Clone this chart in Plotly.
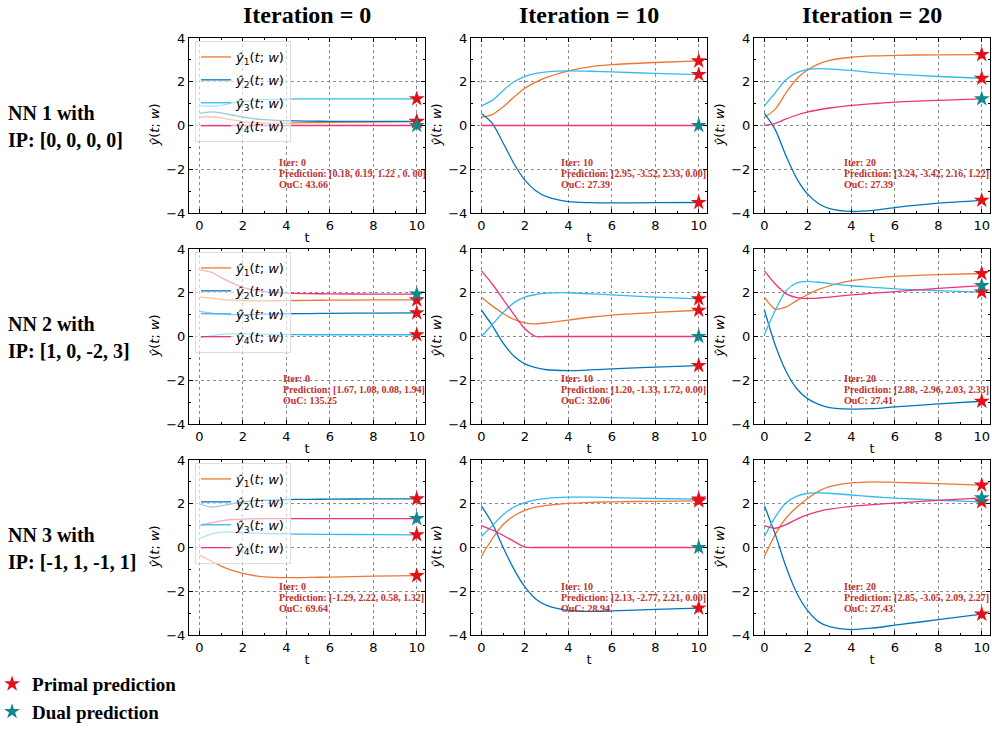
import plotly.graph_objects as go

# time grid of the sampled trajectories
T = [0, 0.5, 1, 1.5, 2, 2.5, 3, 4, 5, 6, 8, 10]

# trajectories [y1, y2, y3, y4] for each network / iteration
nn1_it0 = [
    [0.38, 0.40, 0.35, 0.26, 0.18, 0.13, 0.11, 0.11, 0.13, 0.14, 0.16, 0.18],
    [0.55, 0.62, 0.58, 0.48, 0.38, 0.31, 0.27, 0.22, 0.20, 0.19, 0.19, 0.19],
    [0.92, 0.88, 0.92, 1.02, 1.10, 1.15, 1.18, 1.21, 1.22, 1.22, 1.22, 1.22],
    [0.00, 0.00, 0.00, 0.00, 0.00, 0.00, 0.00, 0.00, 0.00, 0.00, 0.00, 0.00],
]
nn1_it10 = [
    [0.38, 0.50, 0.85, 1.30, 1.70, 1.98, 2.20, 2.50, 2.68, 2.78, 2.88, 2.95],
    [0.55, 0.10, -0.80, -1.75, -2.50, -2.98, -3.25, -3.48, -3.53, -3.54, -3.53, -3.52],
    [0.90, 1.15, 1.60, 2.00, 2.25, 2.38, 2.45, 2.50, 2.48, 2.45, 2.38, 2.33],
    [0.00, 0.00, 0.00, 0.00, 0.00, 0.00, 0.00, 0.00, 0.00, 0.00, 0.00, 0.00],
]
nn1_it20 = [
    [0.38, 0.75, 1.50, 2.15, 2.55, 2.82, 2.98, 3.12, 3.18, 3.21, 3.23, 3.24],
    [0.55, -0.20, -1.40, -2.45, -3.15, -3.58, -3.80, -3.93, -3.88, -3.75, -3.55, -3.42],
    [0.90, 1.50, 2.10, 2.42, 2.56, 2.60, 2.58, 2.52, 2.42, 2.35, 2.24, 2.16],
    [0.00, 0.10, 0.30, 0.48, 0.62, 0.72, 0.80, 0.92, 1.00, 1.07, 1.15, 1.22],
]
nn2_it0 = [
    [1.80, 1.76, 1.70, 1.66, 1.64, 1.63, 1.63, 1.64, 1.65, 1.66, 1.67, 1.67],
    [1.15, 1.08, 1.02, 1.00, 1.00, 1.01, 1.02, 1.04, 1.05, 1.06, 1.07, 1.08],
    [-0.05, 0.03, 0.10, 0.12, 0.12, 0.11, 0.10, 0.09, 0.08, 0.08, 0.08, 0.08],
    [3.05, 2.95, 2.70, 2.45, 2.25, 2.12, 2.05, 1.98, 1.96, 1.95, 1.94, 1.94],
]
nn2_it10 = [
    [1.80, 1.40, 1.05, 0.78, 0.62, 0.58, 0.62, 0.75, 0.88, 0.98, 1.10, 1.20],
    [1.20, 0.50, -0.30, -0.90, -1.25, -1.42, -1.52, -1.56, -1.53, -1.48, -1.40, -1.33],
    [0.00, 0.55, 1.10, 1.55, 1.80, 1.92, 1.98, 2.00, 1.95, 1.90, 1.80, 1.72],
    [3.00, 2.40, 1.70, 1.00, 0.35, 0.00, 0.00, 0.00, 0.00, 0.00, 0.00, 0.00],
]
nn2_it20 = [
    [1.80, 1.25, 1.35, 1.65, 1.92, 2.15, 2.32, 2.55, 2.67, 2.75, 2.83, 2.88],
    [1.20, -0.40, -1.60, -2.40, -2.85, -3.10, -3.25, -3.32, -3.30, -3.22, -3.08, -2.96],
    [0.10, 1.20, 2.10, 2.45, 2.52, 2.48, 2.42, 2.32, 2.25, 2.18, 2.10, 2.03],
    [3.00, 2.40, 1.95, 1.78, 1.74, 1.76, 1.80, 1.90, 1.98, 2.05, 2.20, 2.33],
]
nn3_it0 = [
    [-0.35, -0.60, -0.85, -1.05, -1.18, -1.28, -1.34, -1.38, -1.37, -1.35, -1.31, -1.29],
    [2.00, 1.85, 1.90, 2.00, 2.08, 2.13, 2.16, 2.19, 2.20, 2.21, 2.22, 2.22],
    [0.40, 0.60, 0.70, 0.70, 0.68, 0.66, 0.64, 0.62, 0.61, 0.60, 0.59, 0.58],
    [1.00, 1.12, 1.22, 1.28, 1.30, 1.31, 1.32, 1.32, 1.32, 1.32, 1.32, 1.32],
]
nn3_it10 = [
    [-0.40, 0.40, 1.05, 1.45, 1.70, 1.85, 1.93, 2.02, 2.06, 2.09, 2.11, 2.13],
    [1.90, 1.10, 0.00, -1.00, -1.80, -2.35, -2.65, -2.88, -2.92, -2.90, -2.83, -2.77],
    [0.50, 1.00, 1.50, 1.85, 2.05, 2.18, 2.25, 2.30, 2.30, 2.28, 2.24, 2.21],
    [1.00, 0.80, 0.55, 0.28, 0.02, 0.00, 0.00, 0.00, 0.00, 0.00, 0.00, 0.00],
]
nn3_it20 = [
    [-0.40, 0.60, 1.35, 1.85, 2.25, 2.58, 2.78, 2.95, 3.00, 2.98, 2.92, 2.85],
    [1.90, 0.60, -0.90, -2.10, -2.90, -3.40, -3.62, -3.75, -3.68, -3.55, -3.30, -3.05],
    [0.50, 1.40, 2.05, 2.35, 2.48, 2.50, 2.48, 2.40, 2.32, 2.26, 2.16, 2.09],
    [1.00, 0.88, 1.05, 1.30, 1.50, 1.65, 1.75, 1.88, 1.96, 2.03, 2.15, 2.27],
]

# final predictions [y1, y2, y3, y4] at t = 10 and objective values
pred_nn1 = [[0.18, 0.19, 1.22, 0.00], [2.95, -3.52, 2.33, 0.00], [3.24, -3.42, 2.16, 1.22]]
pred_nn2 = [[1.67, 1.08, 0.08, 1.94], [1.20, -1.33, 1.72, 0.00], [2.88, -2.96, 2.03, 2.33]]
pred_nn3 = [[-1.29, 2.22, 0.58, 1.32], [2.13, -2.77, 2.21, 0.00], [2.85, -3.05, 2.09, 2.27]]
ouc_nn1 = [43.66, 27.39, 27.39]
ouc_nn2 = [135.25, 32.06, 27.41]
ouc_nn3 = [69.64, 28.94, 27.43]

iterations = [0, 10, 20]
row_names = ["NN 1 with", "NN 2 with", "NN 3 with"]
ip_labels = ["IP: [0, 0, 0, 0]", "IP: [1, 0, -2, 3]", "IP: [-1, 1, -1, 1]"]
series_names = [
    "<i>ŷ</i><sub>1</sub>(<i>t</i>; <i>w</i>)",
    "<i>ŷ</i><sub>2</sub>(<i>t</i>; <i>w</i>)",
    "<i>ŷ</i><sub>3</sub>(<i>t</i>; <i>w</i>)",
    "<i>ŷ</i><sub>4</sub>(<i>t</i>; <i>w</i>)",
]
Y_TITLE = "<i>ŷ</i>(<i>t</i>; <i>w</i>)"
T_END = 10

panels = [[nn1_it0, nn1_it10, nn1_it20],
          [nn2_it0, nn2_it10, nn2_it20],
          [nn3_it0, nn3_it10, nn3_it20]]
preds = [pred_nn1, pred_nn2, pred_nn3]
oucs = [ouc_nn1, ouc_nn2, ouc_nn3]

COLORS = ["#EE7733", "#0077BB", "#33BBEE", "#EE3377"]
PRIMAL = "#E3101A"
DUAL = "#11888C"
SERIF = "Liberation Serif, Times New Roman, serif"
SANS = "DejaVu Sans, sans-serif"
TXT_RED = "#C0302B"

W, H = 992, 731
col_px = [(189, 425), (471, 707), (754, 990)]
row_px = [(38, 213), (249, 424), (460, 635)]
PX_PER_UNIT = 175 / 8.0

fig = go.Figure()
layout = dict(
    width=W, height=H, margin=dict(l=0, r=0, t=0, b=0, autoexpand=False),
    plot_bgcolor="white", paper_bgcolor="white",
    font=dict(family=SANS, size=12, color="black"),
)

annotations = []
legend_keys = ["legend", "legend2", "legend3"]
text_top = [-1.67, -1.90, -1.76]
for r in range(3):
    for c in range(3):
        k = r * 3 + c + 1
        xa, ya = f"x{k}" if k > 1 else "x", f"y{k}" if k > 1 else "y"
        data = panels[r][c]
        for s in range(4):
            fig.add_trace(go.Scatter(
                x=T, y=data[s], mode="lines", xaxis=xa, yaxis=ya,
                line=dict(color=COLORS[s], width=1.3, shape="spline", smoothing=0.8),
                name=series_names[s], showlegend=(c == 0),
                legend=legend_keys[r], legendgroup=f"g{r}{s}",
            ))
        p = preds[r][c]
        first = (r == 0 and c == 0)
        fig.add_trace(go.Scatter(
            x=[T_END] * 3, y=p[:3], mode="markers", xaxis=xa, yaxis=ya,
            marker=dict(symbol="star", size=12, color=PRIMAL, line=dict(width=0)),
            name="<b>Primal prediction</b>", showlegend=first, legend="legend4",
        ))
        fig.add_trace(go.Scatter(
            x=[T_END], y=[p[3]], mode="markers", xaxis=xa, yaxis=ya,
            marker=dict(symbol="star", size=12, color=DUAL, line=dict(width=0)),
            name="<b>Dual prediction</b>", showlegend=first, legend="legend4",
        ))

        # axes
        x0, x1 = col_px[c]
        y0, y1 = row_px[r]
        axis_common = dict(
            showline=True, linecolor="black", linewidth=1, mirror="allticks",
            ticks="inside", ticklen=4, tickcolor="black",
            showgrid=True, gridcolor="#8a8a8a", griddash="dot", gridwidth=0.8,
            zeroline=False, tickfont=dict(family=SANS, size=13, color="black"),
            minor=dict(ticks="inside", ticklen=2, tickcolor="black", dtick=1, showgrid=False),
        )
        layout[f"xaxis{k}" if k > 1 else "xaxis"] = dict(
            axis_common, domain=[x0 / W, x1 / W], anchor=ya, range=[-0.48, 10.38],
            tickvals=[0, 2, 4, 6, 8, 10],
            title=dict(text="t", standoff=1, font=dict(family=SANS, size=13)),
        )
        layout[f"yaxis{k}" if k > 1 else "yaxis"] = dict(
            axis_common, domain=[1 - y1 / H, 1 - y0 / H], anchor=xa, range=[-4, 4],
            tickvals=[-4, -2, 0, 2, 4],
        )
        # y-axis title
        annotations.append(dict(
            x=(x0 - 35) / W, y=1 - (y0 + y1) / 2 / H, xref="paper", yref="paper",
            xanchor="center", yanchor="middle", textangle=-90, showarrow=False,
            text=Y_TITLE, font=dict(family=SANS, size=13, color="black"),
        ))

        # iteration summary text, one line each
        if r == 0 and c == 0:
            pred_txt = "[0.18, 0.19, 1.22 , 0. 00]"
        else:
            pred_txt = "[" + ", ".join(f"{v:.2f}" for v in p) + "]"
        lines = [f"Iter: {iterations[c]}", f"Prediction: {pred_txt}",
                 f"OuC: {oucs[r][c]:.2f}"]
        tx = 3.75 if (r == 1 and c == 0) else 3.55
        for i, ln in enumerate(lines):
            annotations.append(dict(
                x=tx, y=text_top[r] - i * 11 / PX_PER_UNIT, xref=xa, yref=ya,
                xanchor="left", yanchor="middle", align="left", showarrow=False,
                text=f"<b>{ln}</b>",
                font=dict(family=SERIF, size=10, color=TXT_RED),
            ))

    # row labels
    yc = (row_px[r][0] + row_px[r][1]) / 2
    annotations.append(dict(
        x=6 / W, y=1 - (yc - 13) / H, xref="paper", yref="paper",
        xanchor="left", yanchor="middle", showarrow=False,
        text=f"<b>{row_names[r]}</b>", font=dict(family=SERIF, size=20, color="black"),
    ))
    annotations.append(dict(
        x=6 / W, y=1 - (yc + 14) / H, xref="paper", yref="paper",
        xanchor="left", yanchor="middle", showarrow=False,
        text=f"<b>{ip_labels[r]}</b>", font=dict(family=SERIF, size=20, color="black"),
    ))

    # per-row series legend
    layout[legend_keys[r]] = dict(
        x=195 / W, y=1 - (row_px[r][0] + 3) / H, xanchor="left", yanchor="top",
        bgcolor="rgba(255,255,255,0.6)", bordercolor="#dddddd", borderwidth=1,
        font=dict(family=SANS, size=13, color="black"), itemwidth=30,
        tracegroupgap=3, traceorder="grouped",
    )

# column titles
for c in range(3):
    annotations.append(dict(
        x=(col_px[c][0] + col_px[c][1]) / 2 / W, y=1 - 15 / H, xref="paper", yref="paper",
        xanchor="center", yanchor="middle", showarrow=False,
        text=f"<b>Iteration = {iterations[c]}</b>",
        font=dict(family=SERIF, size=24, color="black"),
    ))

layout["legend4"] = dict(
    x=-0.008, y=0.0, xanchor="left", yanchor="bottom",
    bgcolor="rgba(0,0,0,0)", font=dict(family=SERIF, size=19, color="black"),
    itemwidth=30, tracegroupgap=0,
)
layout["annotations"] = annotations
fig.update_layout(**layout)
fig.write_html("out.html")
